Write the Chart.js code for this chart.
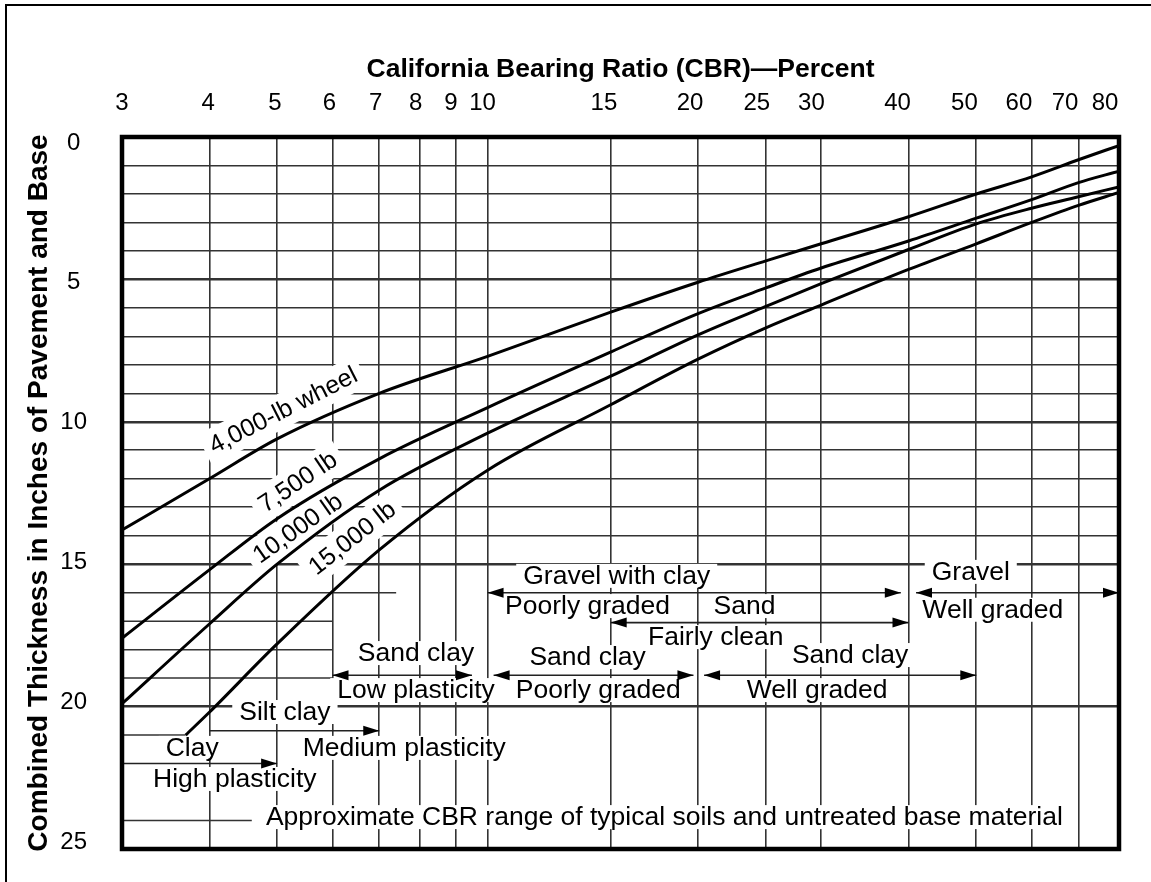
<!DOCTYPE html>
<html>
<head>
<meta charset="utf-8">
<script src="https://cdn.jsdelivr.net/npm/chart.js@4.4.1/dist/chart.umd.min.js"></script>
<style>
  html, body { margin: 0; padding: 0; background: #fff; overflow: hidden; }
  #frame { position: absolute; left: 5px; top: 4px; width: 1200px; height: 940px; border: 2px solid #000; }
  #wrap { position: absolute; left: 0; top: 0; width: 1151px; height: 882px; }
</style>
</head>
<body>
<div id="frame"></div>
<div id="wrap"><canvas id="cbrChart" width="1151" height="882"></canvas></div>
<script>
// CBR (x, log) and thickness in inches (y, reversed)
const cbrTicks = [3, 4, 5, 6, 7, 8, 9, 10, 15, 20, 25, 30, 40, 50, 60, 70, 80];
const thicknessLabels = [0, 5, 10, 15, 20, 25];

const cbr = [3, 4, 5, 7, 10, 15, 20, 25, 30, 40, 50, 60, 70, 80];
const wheel4000 = [13.8, 12.0, 10.6, 9.0, 7.7, 6.15, 5.1, 4.35, 3.75, 2.8, 2.0, 1.4, 0.8, 0.3];
const wheel7500 = [17.6, 15.2, 13.4, 11.3, 9.5, 7.55, 6.2, 5.3, 4.6, 3.65, 2.85, 2.2, 1.6, 1.2];
const wheel10000 = [19.9, 17.1, 15.0, 12.4, 10.4, 8.4, 6.95, 5.95, 5.15, 3.95, 3.05, 2.5, 2.1, 1.75];
const cbr15000 = [3.7, 4, 5, 7, 10, 15, 20, 25, 30, 40, 50, 60, 70, 80];
const wheel15000 = [21.0, 20.2, 17.8, 14.5, 11.7, 9.4, 7.8, 6.7, 5.9, 4.65, 3.75, 3.0, 2.4, 1.95];

// soil ranges: CBR from / to, drawn at a thickness level
const rangeFrom = [10, 41, 15, 6, 10.2, 20.4, 4, 3];
const rangeTo = [39, 80, 40, 9.5, 19.7, 50, 7, 5];
const rangeDepth = [16.0, 16.0, 17.05, 18.9, 18.9, 18.9, 20.85, 22.0];
const rangeArrowLeft = [true, true, true, true, true, true, false, false];

// grid rows that only run part way across
const partialGridDepth = [16, 17, 18, 19, 21, 24];
const partialGridTo = [7.4, 6, 6, 6, 3.7, 4.6];

const noteText = [
  "4,000-lb wheel", "7,500 lb", "10,000 lb", "15,000 lb",
  "Gravel with clay", "Poorly graded", "Sand", "Fairly clean", "Gravel", "Well graded",
  "Sand clay", "Low plasticity", "Sand clay", "Poorly graded", "Sand clay", "Well graded",
  "Silt clay", "Medium plasticity", "Clay", "High plasticity",
  "Approximate CBR range of typical soils and untreated base material"
];
// where each note sits (cbr, thickness, angle in degrees)
const notePlace = [
  [5.1, 9.59, -27], [5.35, 12.11, -34], [5.35, 13.73, -35], [6.4, 14.08, -38],
  [15.3, 15.41, 0], [13.9, 16.47, 0], [23.3, 16.47, 0], [21.2, 17.56, 0], [49.1, 15.27, 0], [52.8, 16.6, 0],
  [7.9, 18.12, 0], [7.9, 19.42, 0], [13.9, 18.26, 0], [14.4, 19.42, 0], [33.0, 18.19, 0], [29.6, 19.42, 0],
  [5.13, 20.19, 0], [7.6, 21.45, 0], [3.78, 21.45, 0], [4.35, 22.54, 0],
  [17.9, 23.88, 0]
];

const FONT = '"Liberation Sans", Arial, sans-serif';
const GRID = "#333";

function pts(xs, ys) {
  return xs.map((v, i) => ({ x: v, y: ys[i] }));
}

const curveStyle = {
  xAxisID: "x",
  yAxisID: "y",
  borderColor: "#000",
  borderWidth: 3,
  pointRadius: 0,
  fill: false,
  cubicInterpolationMode: "monotone"
};

const datasets = [
  Object.assign({ label: "4,000-lb wheel", data: pts(cbr, wheel4000) }, curveStyle),
  Object.assign({ label: "7,500 lb", data: pts(cbr, wheel7500) }, curveStyle),
  Object.assign({ label: "10,000 lb", data: pts(cbr, wheel10000) }, curveStyle),
  Object.assign({ label: "15,000 lb", data: pts(cbr15000, wheel15000) }, curveStyle)
];

rangeFrom.forEach(function (f, i) {
  datasets.push({
    label: "range" + i,
    xAxisID: "x",
    yAxisID: "y",
    data: [{ x: f, y: rangeDepth[i] }, { x: rangeTo[i], y: rangeDepth[i] }],
    borderColor: "#222",
    borderWidth: 1.6,
    pointRadius: 0,
    fill: false
  });
});

function noteFont(i) {
  return (i < 4 ? "25px " : "26.5px ") + FONT;
}

const notesPlugin = {
  id: "notes",
  beforeDatasetsDraw(chart) {
    const { ctx, scales: { x, y } } = chart;
    ctx.save();
    ctx.strokeStyle = GRID;
    ctx.lineWidth = 1.5;
    partialGridDepth.forEach(function (d, i) {
      const py = y.getPixelForValue(d);
      ctx.beginPath();
      ctx.moveTo(x.getPixelForValue(3), py);
      ctx.lineTo(x.getPixelForValue(partialGridTo[i]), py);
      ctx.stroke();
    });
    // white backing behind the notes
    ctx.fillStyle = "#fff";
    noteText.forEach(function (t, i) {
      const p = notePlace[i];
      ctx.font = noteFont(i);
      const w = ctx.measureText(t).width;
      const h = i < 4 ? 17 : 12;
      ctx.save();
      ctx.translate(x.getPixelForValue(p[0]), y.getPixelForValue(p[1]));
      ctx.rotate(p[2] * Math.PI / 180);
      ctx.fillRect(-w / 2 - 7, -h, w + 14, h * 2);
      ctx.restore();
    });
    ctx.restore();
  },
  afterDatasetsDraw(chart) {
    const { ctx, scales: { x, y } } = chart;
    ctx.save();
    // arrowheads at range ends
    ctx.fillStyle = "#000";
    rangeFrom.forEach(function (f, i) {
      const py = y.getPixelForValue(rangeDepth[i]);
      const ends = [];
      if (rangeArrowLeft[i]) ends.push([x.getPixelForValue(f), 1]);
      ends.push([x.getPixelForValue(rangeTo[i]), -1]);
      ends.forEach(function (e) {
        ctx.beginPath();
        ctx.moveTo(e[0], py);
        ctx.lineTo(e[0] + e[1] * 16, py - 5);
        ctx.lineTo(e[0] + e[1] * 16, py + 5);
        ctx.closePath();
        ctx.fill();
      });
    });
    // note text
    ctx.textAlign = "center";
    ctx.textBaseline = "middle";
    noteText.forEach(function (t, i) {
      const p = notePlace[i];
      ctx.font = noteFont(i);
      ctx.save();
      ctx.translate(x.getPixelForValue(p[0]), y.getPixelForValue(p[1]));
      ctx.rotate(p[2] * Math.PI / 180);
      ctx.fillText(t, 0, 1);
      ctx.restore();
    });
    ctx.restore();
  },
  afterDraw(chart) {
    const { ctx, chartArea: a } = chart;
    ctx.save();
    ctx.strokeStyle = "#000";
    ctx.lineWidth = 4.5;
    ctx.strokeRect(a.left, a.top, a.right - a.left, a.bottom - a.top);
    ctx.restore();
  }
};

new Chart(document.getElementById("cbrChart"), {
  type: "line",
  data: { datasets: datasets },
  plugins: [notesPlugin],
  options: {
    responsive: false,
    animation: false,
    layout: { padding: { left: 0, top: 0, right: 32, bottom: 33 } },
    plugins: { legend: { display: false }, tooltip: { enabled: false } },
    scales: {
      // plotting axis: carries the grid
      x: {
        type: "logarithmic",
        position: "top",
        min: 3,
        max: 80,
        afterBuildTicks: function (scale) {
          scale.ticks = cbrTicks.map(function (v) { return { value: v }; });
        },
        afterFit: function (scale) {
          scale.height = 0;
          scale.paddingLeft = 0;
          scale.paddingRight = 0;
        },
        border: { display: false },
        grid: { color: GRID, lineWidth: 1.6, drawTicks: false },
        ticks: { display: false }
      },
      // label axis: the printed numbers sit slightly left of the rules on the original
      xLabels: {
        type: "logarithmic",
        position: "top",
        min: 3,
        max: 83.8,
        afterBuildTicks: function (scale) {
          scale.ticks = cbrTicks.map(function (v) { return { value: v }; });
        },
        afterFit: function (scale) {
          scale.height = 137;
          scale.paddingLeft = 0;
          scale.paddingRight = 0;
        },
        border: { display: false },
        grid: { display: false, drawTicks: false },
        ticks: {
          autoSkip: false,
          maxRotation: 0,
          padding: 19,
          color: "#000",
          font: { family: FONT, size: 24 },
          callback: function (v) { return String(v); }
        },
        title: {
          display: true,
          text: "California Bearing Ratio (CBR)\u2014Percent",
          color: "#000",
          font: { family: FONT, size: 26.5, weight: "bold" },
          padding: { top: 54, bottom: 0 }
        }
      },
      y: {
        reverse: true,
        min: 0,
        max: 25,
        afterFit: function (scale) {
          scale.width = 0;
          scale.paddingTop = 0;
          scale.paddingBottom = 0;
        },
        border: { display: false },
        grid: {
          drawTicks: false,
          color: function (c) {
            const v = c.tick.value;
            return (v > 15 && v !== 20) ? "rgba(0,0,0,0)" : GRID;
          },
          lineWidth: function (c) {
            return c.tick.value % 5 === 0 ? 2.6 : 1.6;
          }
        },
        ticks: { stepSize: 1, display: false }
      },
      yLabels: {
        position: "left",
        reverse: true,
        min: -0.215,
        max: 25.25,
        afterBuildTicks: function (scale) {
          scale.ticks = thicknessLabels.map(function (v) { return { value: v }; });
        },
        afterFit: function (scale) {
          scale.width = 122;
          scale.paddingTop = 0;
          scale.paddingBottom = 0;
        },
        border: { display: false },
        grid: { display: false, drawTicks: false },
        ticks: {
          autoSkip: false,
          crossAlign: "center",
          padding: 35,
          color: "#000",
          font: { family: FONT, size: 24 },
          callback: function (v) { return String(v); }
        },
        title: {
          display: true,
          text: "Combined Thickness in Inches of Pavement and Base",
          color: "#000",
          font: { family: FONT, size: 28, weight: "bold" },
          padding: { top: 22, bottom: 0 }
        }
      }
    }
  }
});
</script>
</body>
</html>
